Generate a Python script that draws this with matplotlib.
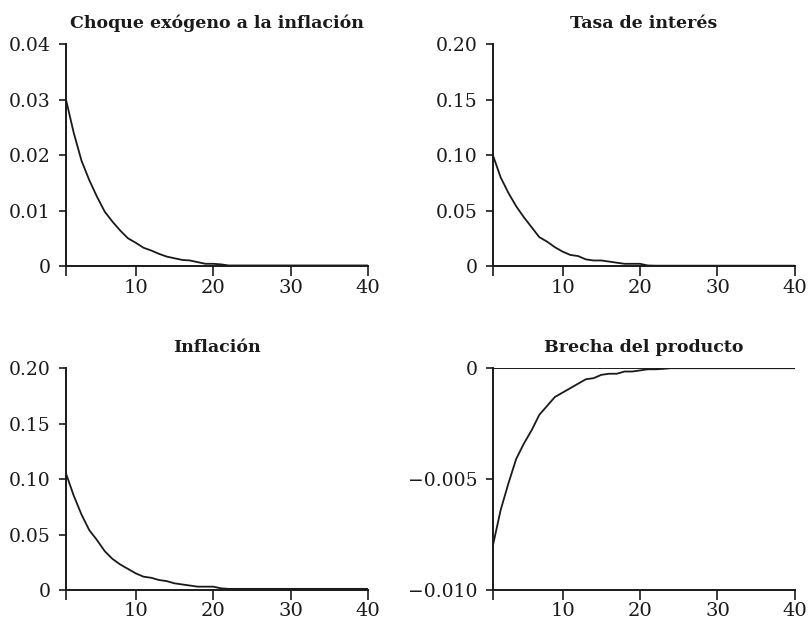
import matplotlib
matplotlib.use("Agg")
import matplotlib.pyplot as plt
from matplotlib.ticker import FuncFormatter

plt.rcParams['font.family'] = ['DejaVu Serif']

# periods 1..40
periods = list(range(1, 41))

# responses (zero after they die out)
choque = [0.0300, 0.0240, 0.0190, 0.0155, 0.0125, 0.0098, 0.0080, 0.0064, 0.0050, 0.0042,
          0.0033, 0.0028, 0.0022, 0.0017, 0.0014, 0.0011, 0.0010, 0.0007, 0.0004, 0.0004,
          0.0003, 0.0001] + [0.0001] * 18
tasa = [0.100, 0.080, 0.066, 0.054, 0.044, 0.035, 0.026, 0.022, 0.017, 0.013,
        0.010, 0.009, 0.006, 0.005, 0.005, 0.004, 0.003, 0.002, 0.002, 0.002,
        0.0005] + [0.0003] * 19
inflacion = [0.105, 0.085, 0.068, 0.054, 0.045, 0.035, 0.028, 0.023, 0.019, 0.015,
             0.012, 0.011, 0.009, 0.008, 0.006, 0.005, 0.004, 0.003, 0.003, 0.003,
             0.0015] + [0.001] * 19
brecha = [-0.0080, -0.0064, -0.0052, -0.0041, -0.0034, -0.0028, -0.0021, -0.0017, -0.0013, -0.0011,
          -0.0009, -0.0007, -0.0005, -0.00045, -0.0003, -0.00025, -0.00025, -0.00015, -0.00015, -0.0001,
          -0.00005, -0.00005, -0.00003] + [0.0] * 17

titles = ["Choque exógeno a la inflación", "Tasa de interés", "Inflación", "Brecha del producto"]
series = [choque, tasa, inflacion, brecha]
yticks = [[0, 0.01, 0.02, 0.03, 0.04],
          [0, 0.05, 0.10, 0.15, 0.20],
          [0, 0.05, 0.10, 0.15, 0.20],
          [-0.010, -0.005, 0]]
ydec = [2, 2, 2, 3]

fig = plt.figure(figsize=(8.08, 6.23), dpi=100)
positions = [[0.0817, 0.573, 0.3738, 0.356],
             [0.610, 0.573, 0.3738, 0.356],
             [0.0817, 0.053, 0.3738, 0.356],
             [0.610, 0.053, 0.3738, 0.356]]

for pos, title, y, yt, nd in zip(positions, titles, series, yticks, ydec):
    ax = fig.add_axes(pos)
    ax.plot(periods, y, color='#1a1a1a', lw=1.3)
    ax.set_xlim(1, 40)
    ax.set_ylim(yt[0], yt[-1])
    ax.set_xticks([1, 10, 20, 30, 40])
    ax.set_xticklabels(['', '10', '20', '30', '40'])
    ax.set_yticks(yt)
    ax.yaxis.set_major_formatter(FuncFormatter(
        lambda v, p, nd=nd: '0' if abs(v) < 1e-12 else f'{v:.{nd}f}'.replace('-', '\u2212')))
    for s in ['top', 'right']:
        ax.spines[s].set_visible(False)
    for s in ['left', 'bottom']:
        ax.spines[s].set_linewidth(1.4)
        ax.spines[s].set_color('#1a1a1a')
    ax.tick_params(axis='x', direction='out', length=7, width=1.2, labelsize=14, colors='#1a1a1a', pad=2)
    ax.tick_params(axis='y', direction='out', length=5, width=1.2, labelsize=13.5, colors='#1a1a1a', pad=6)
    ax.set_title(title, fontsize=12.5, fontweight='bold', pad=12, color='#1a1a1a')
    if yt[-1] == 0:
        ax.axhline(0, color='#1a1a1a', lw=1.4)

fig.savefig('out.png', dpi=100)
